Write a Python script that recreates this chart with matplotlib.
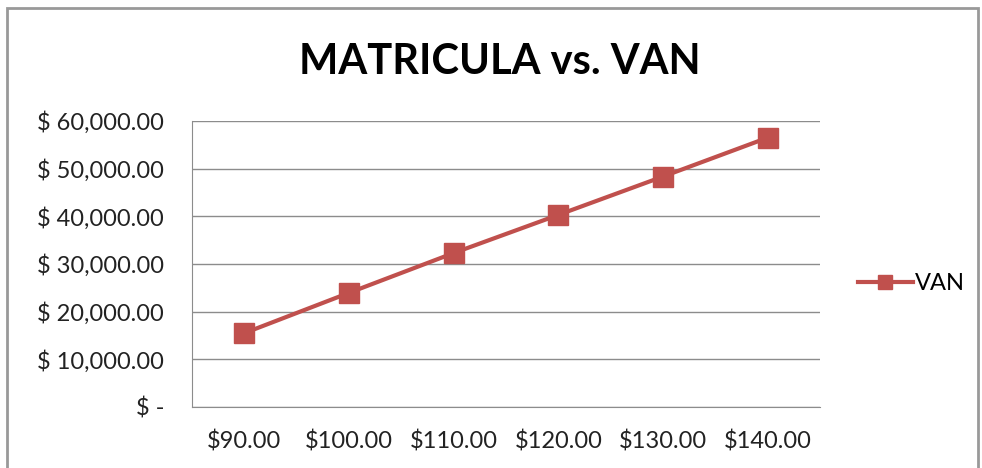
import matplotlib
matplotlib.use("Agg")
import matplotlib.pyplot as plt
from matplotlib.patches import Rectangle
from matplotlib.lines import Line2D

categories = ["$90.00", "$100.00", "$110.00", "$120.00", "$130.00", "$140.00"]
van = [15500, 23950, 32300, 40300, 48350, 56500]
yticks = [0, 10000, 20000, 30000, 40000, 50000, 60000]
ytick_labels = ["$ -", "$ 10,000.00", "$ 20,000.00", "$ 30,000.00", "$ 40,000.00", "$ 50,000.00", "$ 60,000.00"]

plt.rcParams['font.family'] = ['Lato', 'DejaVu Sans']
W, H = 982, 468
fig = plt.figure(figsize=(W/100, H/100), dpi=100)
fig.patch.set_facecolor("white")

# outer chart border
fig.add_artist(Rectangle((7/W, -0.05), (978-7)/W, (H-8)/H + 0.05, transform=fig.transFigure,
                         fill=False, edgecolor="#999999", linewidth=2))

ax = fig.add_axes([192/W, 1-407/H, (820-192)/W, (407-121)/H])
color = "#c0504d"
x = list(range(len(categories)))
ax.plot(x, van, color=color, linewidth=3, marker="s", markersize=14, markeredgecolor=color, label="VAN")
ax.set_xlim(-0.5, len(categories)-0.5)
ax.set_ylim(0, 60000)
ax.set_yticks(yticks)
ax.set_yticklabels(ytick_labels, fontsize=17, color="#222222")
ax.set_xticks(x)
ax.set_xticklabels(categories, fontsize=17, color="#222222")
ax.yaxis.grid(True, color="#8c8c8c", linewidth=1)
ax.set_axisbelow(True)
for s in ["top", "right"]:
    ax.spines[s].set_visible(False)
for s in ["left", "bottom"]:
    ax.spines[s].set_color("#8c8c8c")
ax.tick_params(axis="y", length=0, pad=20)
ax.tick_params(axis="x", length=0, pad=17)

fig.text(500/W, 1-62/H, "MATRICULA vs. VAN", ha="center", va="center", fontsize=30, fontweight="bold", color="black")

handle = Line2D([0], [0], color=color, linewidth=3, marker="s", markersize=10, markeredgecolor=color)
fig.legend([handle], ["VAN"], loc="center left", bbox_to_anchor=(837/W, 1-284/H), frameon=False,
           fontsize=17, handlelength=2.3, handletextpad=0.1)

fig.savefig("out.png", dpi=100)
